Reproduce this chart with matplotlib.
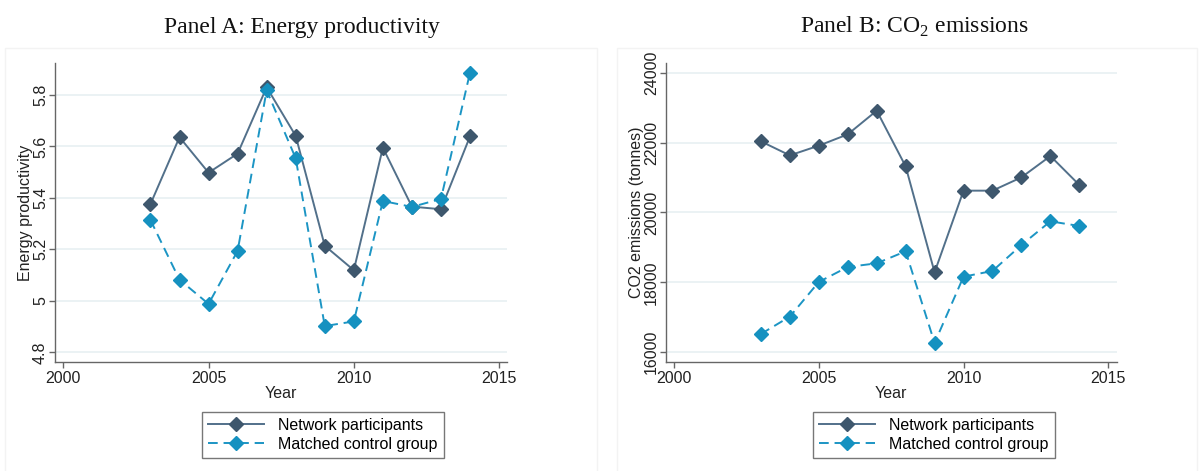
import matplotlib
matplotlib.use("Agg")
import matplotlib.pyplot as plt
from matplotlib.patches import Rectangle
from matplotlib.lines import Line2D

years = [2003, 2004, 2005, 2006, 2007, 2008, 2009, 2010, 2011, 2012, 2013, 2014]
energy_network = [5.376, 5.636, 5.498, 5.572, 5.830, 5.641, 5.214, 5.119, 5.595, 5.366, 5.356, 5.639]
energy_control = [5.314, 5.082, 4.988, 5.194, 5.818, 5.554, 4.902, 4.920, 5.388, 5.365, 5.396, 5.887]
co2_network = [22036, 21635, 21912, 22236, 22913, 21321, 18288, 20625, 20625, 21006, 21616, 20787]
co2_control = [16524, 17020, 18012, 18441, 18546, 18889, 16267, 18164, 18327, 19070, 19747, 19614]

x_ticks = [2000, 2005, 2010, 2015]
energy_ticks = [4.8, 5.0, 5.2, 5.4, 5.6, 5.8]
energy_ticklabels = ["4.8", "5", "5.2", "5.4", "5.6", "5.8"]
co2_ticks = [16000, 18000, 20000, 22000, 24000]
co2_ticklabels = ["16000", "18000", "20000", "22000", "24000"]

series_labels = ["Network participants", "Matched control group"]
titles = ["Panel A: Energy productivity", r"Panel B: CO$_\mathregular{2}$ emissions"]
ylabels = ["Energy productivity", "CO2 emissions (tonnes)"]

plt.rcParams['font.family'] = ['Liberation Sans', 'DejaVu Sans']
plt.rcParams['mathtext.fontset'] = 'custom'
plt.rcParams['mathtext.rm'] = 'Liberation Serif'

NET_C = '#52708a'
NET_M = '#3e576d'
CTL_C = '#1c95c4'
CTL_M = '#1591c0'
GRID_C = '#e8f0f2'
SPINE_C = '#666666'

W, H = 1200, 471
fig = plt.figure(figsize=(12, 4.71), dpi=100)

# faint panel frames
for (x0, x1) in [(5, 597), (617, 1197)]:
    fig.patches.append(Rectangle((x0 / W, -0.05), (x1 - x0) / W, (H - 48) / H + 0.05,
                                 transform=fig.transFigure, fill=False,
                                 edgecolor='#f3f3f3', linewidth=1.0))

panels = [
    dict(left=55, right=506.7, xlim=(1999.714, 2015.263), ylim=(4.7635, 5.923),
         yt=energy_ticks, ytl=energy_ticklabels, net=energy_network, ctl=energy_control,
         title_x=302, leg_x=323),
    dict(left=665.7, right=1116.7, xlim=(1999.713, 2015.29), ylim=(15731, 24269),
         yt=co2_ticks, ytl=co2_ticklabels, net=co2_network, ctl=co2_control,
         title_x=914, leg_x=934),
]

bottom_px, top_px = 361.7, 63.3
for i, p in enumerate(panels):
    wpx = p['right'] - p['left']
    ax = fig.add_axes([p['left'] / W, (H - bottom_px) / H,
                       wpx / W, (bottom_px - top_px) / H])
    ax.set_xlim(*p['xlim'])
    ax.set_ylim(*p['ylim'])
    for s in ['top', 'right']:
        ax.spines[s].set_visible(False)
    for s in ['left', 'bottom']:
        ax.spines[s].set_color(SPINE_C)
        ax.spines[s].set_linewidth(1.0)
    ax.set_yticks(p['yt'])
    ax.set_yticklabels(p['ytl'], rotation=90, va='center')
    ax.set_xticks(x_ticks)
    ax.tick_params(axis='x', direction='out', length=4, width=1, color=SPINE_C,
                   labelsize=11.5, labelcolor='#222222', pad=3)
    ax.tick_params(axis='y', direction='out', length=4, width=1, color=SPINE_C,
                   labelsize=11.5, labelcolor='#222222', pad=1)
    ax.yaxis.grid(True, color=GRID_C, linewidth=1.2)
    ax.set_axisbelow(True)
    ax.plot(years, p['net'], '-', color=NET_C, linewidth=1.4, marker='D',
            markersize=7, markerfacecolor=NET_M, markeredgecolor=NET_M, zorder=3)
    ax.plot(years, p['ctl'], '--', color=CTL_C, linewidth=1.4, dashes=(5, 3),
            marker='D', markersize=7, markerfacecolor=CTL_M, markeredgecolor=CTL_M, zorder=3)
    ax.set_xlabel('Year', fontsize=11.5, labelpad=0, color='#222222')
    ax.set_ylabel(ylabels[i], fontsize=11.5, color='#222222', labelpad=0)

    fig.text(p['title_x'] / W, (H - 27) / H, titles[i], ha='center', va='center',
             fontsize=17, family='Liberation Serif', color='#111111')

    handles = [
        Line2D([], [], color=NET_C, linestyle='-', linewidth=1.4, marker='D', markersize=7,
               markerfacecolor=NET_M, markeredgecolor=NET_M),
        Line2D([], [], color=CTL_C, linestyle='--', dashes=(5, 3), linewidth=1.4, marker='D',
               markersize=7, markerfacecolor=CTL_M, markeredgecolor=CTL_M),
    ]
    leg = fig.legend(handles, series_labels, loc='center',
                     bbox_to_anchor=(p['leg_x'] / W, (H - 435) / H),
                     fontsize=11.5, frameon=True, fancybox=False, handlelength=3.5,
                     handletextpad=0.9, borderpad=0.4, borderaxespad=0, labelspacing=0.25)
    leg.get_frame().set_edgecolor('#555555')
    leg.get_frame().set_linewidth(1.0)

fig.savefig('out.png', dpi=100)
